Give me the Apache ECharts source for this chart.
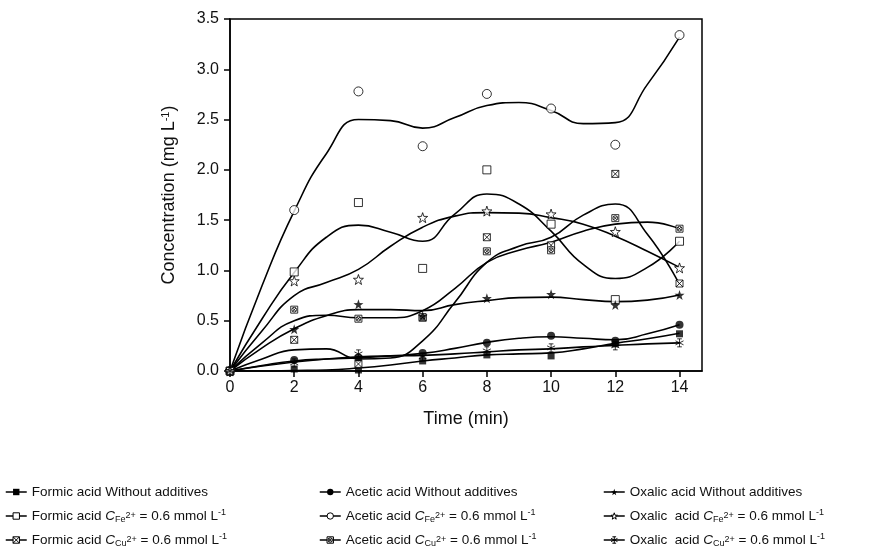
<!DOCTYPE html>
<html>
<head>
<meta charset="utf-8">
<script src="https://cdn.jsdelivr.net/npm/echarts@6/dist/echarts.min.js"></script>
<style>
  html, body { margin: 0; padding: 0; background: #fff; }
  #chart { width: 896px; height: 558px; }
</style>
</head>
<body>
<div id="chart"></div>
<script>
// measured points (min)
var timeX = [0, 2, 4, 6, 8, 10, 12, 14];
var formicNone = [0, 0.02, 0.01, 0.10, 0.16, 0.15, 0.27, 0.37];
var formicFe   = [0, 0.985, 1.675, 1.02, 2.00, 1.46, 0.71, 1.29];
var formicCu   = [0, 0.31, 0.07, 0.53, 1.33, 1.25, 1.96, 0.87];
var aceticNone = [0, 0.11, 0.135, 0.18, 0.28, 0.35, 0.30, 0.46];
var aceticFe   = [0, 1.60, 2.78, 2.235, 2.755, 2.61, 2.25, 3.34];
var aceticCu   = [0, 0.61, 0.52, 0.535, 1.19, 1.20, 1.52, 1.415];
var oxalicNone = [0, 0.415, 0.663, 0.547, 0.723, 0.763, 0.657, 0.756];
var oxalicFe   = [0, 0.895, 0.91, 1.525, 1.59, 1.56, 1.385, 1.025];
var oxalicCu   = [0, 0.08, 0.17, 0.14, 0.20, 0.23, 0.25, 0.28];

// fitted curves, every minute
var fitX = [0, 1, 2, 3, 4, 5, 6, 7, 8, 9, 10, 11, 12, 13, 14];
var fitFormicNone = [0, 0, 0.005, 0.01, 0.03, 0.06, 0.10, 0.13, 0.16, 0.17, 0.18, 0.22, 0.275, 0.32, 0.375];
var fitFormicFe   = [0, 0.52, 0.98, 1.33, 1.45, 1.38, 1.29, 1.56, 1.76, 1.66, 1.39, 1.06, 0.92, 1.03, 1.29];
var fitFormicCu   = [0, 0.12, 0.21, 0.22, 0.12, 0.13, 0.30, 0.68, 1.08, 1.24, 1.33, 1.55, 1.66, 1.36, 0.86];
var fitAceticNone = [0, 0.055, 0.10, 0.12, 0.13, 0.15, 0.175, 0.225, 0.285, 0.325, 0.34, 0.325, 0.31, 0.37, 0.46];
var fitAceticFe   = [0, 0.85, 1.59, 2.16, 2.50, 2.49, 2.415, 2.52, 2.64, 2.67, 2.59, 2.46, 2.47, 2.85, 3.32];
var fitAceticCu   = [0, 0.28, 0.50, 0.555, 0.53, 0.53, 0.60, 0.82, 1.08, 1.20, 1.28, 1.39, 1.46, 1.48, 1.415];
var fitOxalicNone = [0, 0.23, 0.42, 0.55, 0.61, 0.61, 0.60, 0.66, 0.70, 0.73, 0.735, 0.71, 0.69, 0.705, 0.756];
var fitOxalicFe   = [0, 0.40, 0.75, 0.88, 1.01, 1.24, 1.43, 1.54, 1.575, 1.57, 1.525, 1.46, 1.34, 1.19, 1.03];
var fitOxalicCu   = [0, 0.05, 0.09, 0.12, 0.14, 0.15, 0.155, 0.17, 0.19, 0.21, 0.22, 0.24, 0.255, 0.27, 0.28];

var xTicks = [0, 2, 4, 6, 8, 10, 12, 14];

var names = [
  'Formic acid Without additives', 'Formic acid Fe', 'Formic acid Cu',
  'Acetic acid Without additives', 'Acetic acid Fe', 'Acetic acid Cu',
  'Oxalic acid Without additives', 'Oxalic acid Fe', 'Oxalic acid Cu'
];
var labels = [
  'Formic acid Without additives',
  'Formic acid {i|C}{sub|Fe}{sup2|2+} = 0.6 mmol L{sup|-1}',
  'Formic acid {i|C}{sub|Cu}{sup2|2+} = 0.6 mmol L{sup|-1}',
  'Acetic acid Without additives',
  'Acetic acid {i|C}{sub|Fe}{sup2|2+} = 0.6 mmol L{sup|-1}',
  'Acetic acid {i|C}{sub|Cu}{sup2|2+} = 0.6 mmol L{sup|-1}',
  'Oxalic acid Without additives',
  'Oxalic  acid {i|C}{sub|Fe}{sup2|2+} = 0.6 mmol L{sup|-1}',
  'Oxalic  acid {i|C}{sub|Cu}{sup2|2+} = 0.6 mmol L{sup|-1}'
];

var starPath = 'path://M10,0 L12.35,6.76 L19.51,6.91 L13.8,11.24 L15.88,18.09 L10,14 L4.12,18.09 L6.2,11.24 L0.49,6.91 L7.65,6.76 Z';
var xSquare = 'path://M0,0 L10,0 L10,10 L0,10 Z M0,0 L10,10 M10,0 L0,10';
var oSquare = 'path://M0,0 L10,0 L10,10 L0,10 Z M5,1.6 A3.4,3.4 0 1 1 4.99,1.6 Z M2.6,2.6 L7.4,7.4 M7.4,2.6 L2.6,7.4';
var asterisk = 'path://M5,0 L5,10 M0.7,2.5 L9.3,7.5 M9.3,2.5 L0.7,7.5 M2.5,0 L7.5,0 M2.5,10 L7.5,10';

var points = [formicNone, formicFe, formicCu, aceticNone, aceticFe, aceticCu, oxalicNone, oxalicFe, oxalicCu];
var fits = [fitFormicNone, fitFormicFe, fitFormicCu, fitAceticNone, fitAceticFe, fitAceticCu, fitOxalicNone, fitOxalicFe, fitOxalicCu];
var symbols = ['rect', 'rect', xSquare, 'circle', 'circle', oSquare, starPath, starPath, asterisk];
var sizes = [7, 8, 7, 8, 9, 7, 10, 10, 8];
var filled = [true, false, false, true, false, false, true, false, false];

function pairs(xs, ys) {
  return xs.map(function (x, i) { return [x, ys[i]]; });
}
function markStyle(i) {
  return filled[i]
    ? { color: '#000', borderColor: '#000', borderWidth: 0 }
    : { color: '#fff', borderColor: '#000', borderWidth: 1 };
}

var series = [];
names.forEach(function (n, i) {
  series.push({
    name: n,
    type: 'line',
    smooth: 0.5,
    symbol: symbols[i],
    showSymbol: false,
    lineStyle: { color: '#000', width: 1.6 },
    itemStyle: markStyle(i),
    z: 2,
    data: pairs(fitX, fits[i])
  });
});
names.forEach(function (n, i) {
  series.push({
    name: 'pts ' + n,
    type: 'scatter',
    symbol: symbols[i],
    symbolSize: sizes[i],
    itemStyle: markStyle(i),
    z: 3,
    data: pairs(timeX, points[i])
  });
});

var font = 'Liberation Sans, Arial, sans-serif';
var rich = {
  i:    { fontStyle: 'italic', fontSize: 13.5, fontFamily: font, color: '#111' },
  sub:  { fontSize: 9, lineHeight: 9, verticalAlign: 'bottom', fontFamily: font, color: '#111' },
  sup2: { fontSize: 9, lineHeight: 9, verticalAlign: 'middle', fontFamily: font, color: '#111' },
  sup:  { fontSize: 9, lineHeight: 9, verticalAlign: 'top', fontFamily: font, color: '#111' }
};
var colLeft = [5, 319, 603];
var legends = colLeft.map(function (left, c) {
  return {
    orient: 'vertical',
    left: left,
    top: 484,
    padding: 0,
    itemWidth: 21,
    itemHeight: 8,
    itemGap: 8,
    selectedMode: false,
    lineStyle: { color: '#000', width: 1.5 },
    textStyle: { fontSize: 13.5, fontFamily: font, color: '#111', lineHeight: 16, rich: rich },
    formatter: function (name) { return labels[names.indexOf(name)]; },
    data: names.slice(c * 3, c * 3 + 3).map(function (n, k) {
      return { name: n, itemStyle: markStyle(c * 3 + k) };
    })
  };
});

var chart = echarts.init(document.getElementById('chart'));
chart.setOption({
  animation: false,
  backgroundColor: '#fff',
  grid: { left: 230, right: 194, top: 19, bottom: 187, show: true, borderColor: '#000', borderWidth: 1.5 },
  legend: legends,
  xAxis: {
    type: 'value',
    min: 0,
    max: 14.7,
    name: 'Time (min)',
    nameLocation: 'middle',
    nameGap: 39,
    nameTextStyle: { fontSize: 18, fontFamily: font, color: '#111' },
    axisLine: { show: true, lineStyle: { color: '#000', width: 1.5 } },
    axisTick: { show: true, length: 6, lineStyle: { color: '#000', width: 1.5 }, customValues: xTicks },
    axisLabel: { fontSize: 16, fontFamily: font, color: '#111', margin: 9, customValues: xTicks },
    splitLine: { show: false }
  },
  yAxis: {
    type: 'value',
    min: 0,
    max: 3.5,
    interval: 0.5,
    name: 'Concentration (mg L{s|-1})',
    nameLocation: 'middle',
    nameGap: 52,
    nameTextStyle: {
      fontSize: 18, fontFamily: font, color: '#111',
      rich: { s: { fontSize: 11, verticalAlign: 'top', lineHeight: 11, fontFamily: font, color: '#111' } }
    },
    axisLine: { show: true, lineStyle: { color: '#000', width: 1.5 } },
    axisTick: { show: true, length: 6, lineStyle: { color: '#000', width: 1.5 } },
    axisLabel: {
      fontSize: 16, fontFamily: font, color: '#111', margin: 11,
      formatter: function (v) { return v.toFixed(1); }
    },
    splitLine: { show: false }
  },
  series: series
});
</script>
</body>
</html>
